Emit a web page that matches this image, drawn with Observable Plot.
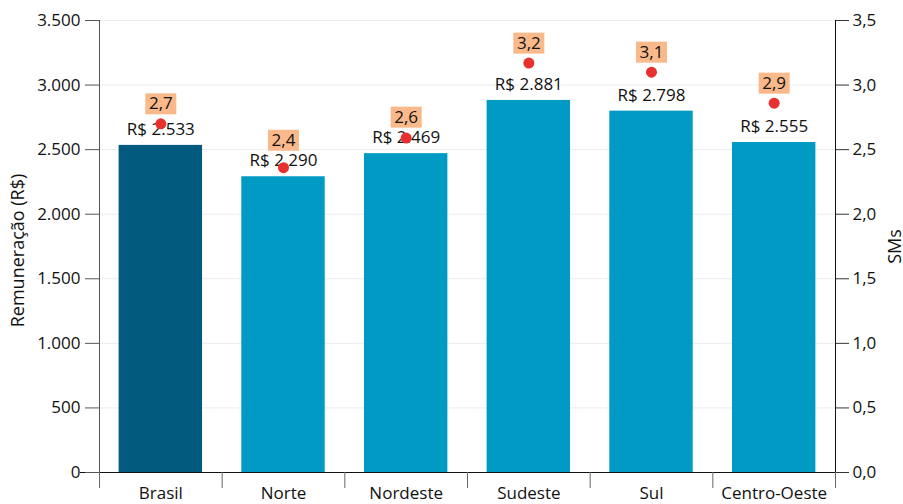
<!DOCTYPE html>
<html>
<head>
<meta charset="utf-8">
<script src="https://cdn.jsdelivr.net/npm/d3@7"></script>
<script src="https://cdn.jsdelivr.net/npm/@observablehq/plot@0.6"></script>
<style>
  html, body { margin: 0; padding: 0; background: #fff; }
</style>
</head>
<body>
<div id="chart"></div>
<script>
const categories = ["Brasil", "Norte", "Nordeste", "Sudeste", "Sul", "Centro-Oeste"];
const remuneracao = [2533, 2290, 2469, 2881, 2798, 2555];
const salariosMinimos = [2.70, 2.36, 2.59, 3.17, 3.10, 2.86];
const leftTicks = [0, 500, 1000, 1500, 2000, 2500, 3000, 3500];
const rightTicks = [0, 0.5, 1.0, 1.5, 2.0, 2.5, 3.0, 3.5];
const leftTitle = "Remuneração (R$)";
const rightTitle = "SMs";

const locale = d3.formatLocale({decimal: ",", thousands: ".", grouping: [3], currency: ["R$ ", ""]});
const fmtInt = locale.format(",d");
const fmtDec = locale.format(".1f");

const W = 903, H = 504, mL = 99, mR = 68, mT = 20, mB = 32;
const step = (W - mL - mR) / categories.length;
const yMax = 3500;
const perPx = yMax / (H - mT - mB);          // data units per pixel on the y scale
const smToY = v => v * 1000;                 // SM axis 0–3,5 shares the 0–3.500 y scale
const remLabelDy = 16, boxDy = 20, boxGap = 20.5;

const data = categories.map((c, i) => {
  const sy = smToY(salariosMinimos[i]);
  // SM label sits above its dot, but is pushed up when it would run into the R$ label
  const labelY = Math.max(sy + boxDy * perPx, remuneracao[i] + (remLabelDy + boxGap) * perPx);
  return {regiao: c, rem: remuneracao[i], sm: salariosMinimos[i], smY: sy, labelY};
});

const dark = "#025b7e", light = "#019ac4";
const rectSymbol = {draw(ctx) { ctx.rect(-15.5, -10.5, 31, 21); }};

const chart = Plot.plot({
  width: W, height: H,
  marginLeft: mL, marginRight: mR, marginTop: mT, marginBottom: mB,
  style: {fontFamily: "'Open Sans', sans-serif", fontSize: "17px", color: "#111", background: "#fff"},
  x: {domain: categories, paddingInner: 0.32, paddingOuter: 0.16, round: false, axis: null},
  y: {domain: [0, yMax], axis: null},
  color: {domain: categories, range: [dark, light, light, light, light, light]},
  marks: [
    Plot.ruleY(leftTicks, {stroke: "#ececec"}),
    Plot.barY(data, {x: "regiao", y: "rem", fill: "regiao"}),
    Plot.frame({anchor: "left", stroke: "#555"}),
    Plot.frame({anchor: "right", stroke: "#111"}),
    Plot.ruleY([0], {stroke: "#111", insetLeft: -19}),
    Plot.ruleX(categories, {x: d => d, y1: 0, y2: 0, dx: -step / 2, insetBottom: -16, stroke: "#666"}),
    Plot.ruleX([categories[categories.length - 1]], {x: d => d, y1: 0, y2: 0, dx: step / 2, insetBottom: -16, stroke: "#666"}),
    Plot.axisY(leftTicks, {anchor: "left", tickSize: 14, tickPadding: 5, tickFormat: fmtInt, stroke: "#555", fill: "#111", label: null, fontSize: 17}),
    Plot.axisY(rightTicks.map(smToY), {anchor: "right", tickSize: 13, tickPadding: 4, tickFormat: d => fmtDec(d / 1000), stroke: "#333", fill: "#111", label: null, fontSize: 17}),
    Plot.axisX(categories, {anchor: "bottom", tickSize: 0, tickPadding: 14, fill: "#111", label: null, fontSize: 17}),
    Plot.text(data, {x: "regiao", y: "rem", text: d => "R$ " + fmtInt(d.rem), dy: -remLabelDy, fill: "#111", fontSize: 17}),
    Plot.dot(data, {x: "regiao", y: "smY", r: 5.5, fill: "#e8302e", stroke: null}),
    Plot.dot(data, {x: "regiao", y: "labelY", symbol: rectSymbol, fill: "#f9b98b", stroke: null}),
    Plot.text(data, {x: "regiao", y: "labelY", text: d => fmtDec(d.sm), fill: "#111", fontSize: 17}),
    Plot.text([leftTitle], {text: d => d, frameAnchor: "left", textAnchor: "middle", dx: -81, dy: 4, rotate: -90, fill: "#111", fontSize: 18}),
    Plot.text([rightTitle], {text: d => d, frameAnchor: "right", textAnchor: "middle", dx: 60, rotate: -90, fill: "#111", fontSize: 18})
  ]
});
document.getElementById("chart").appendChild(chart);
</script>
</body>
</html>
